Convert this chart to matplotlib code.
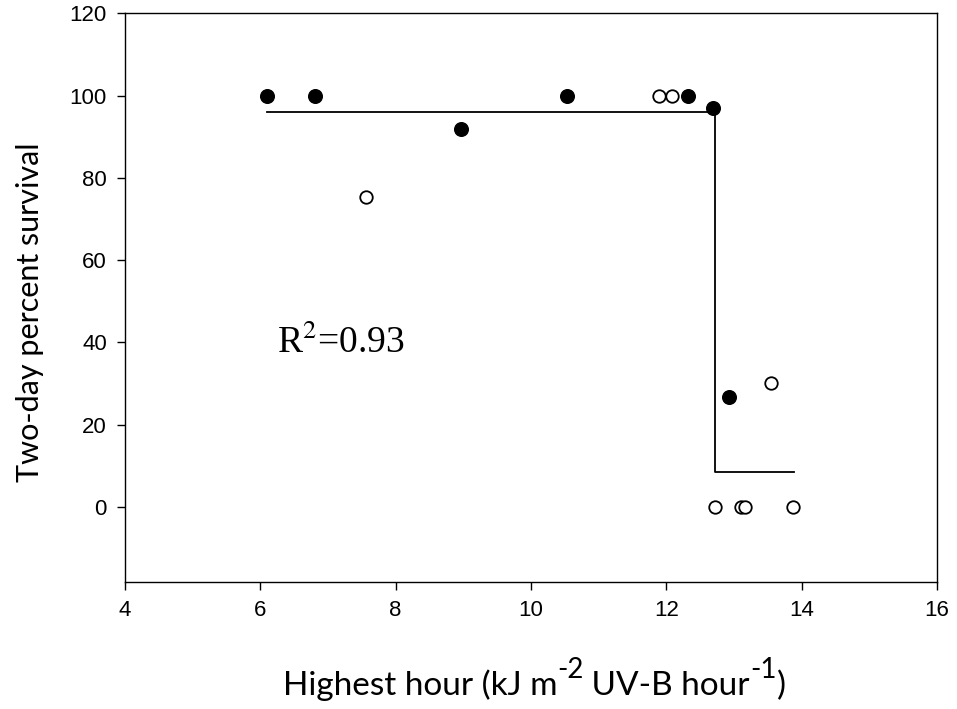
import matplotlib
matplotlib.use("Agg")
import matplotlib.pyplot as plt

filled_x = [6.10, 6.81, 8.96, 10.54, 12.32, 12.69, 12.92]
filled_y = [100, 100, 91.9, 100, 100, 97, 26.8]
open_x = [7.56, 11.90, 12.08, 13.55, 12.72, 13.11, 13.17, 13.88]
open_y = [75.3, 100, 100, 30.2, 0, 0, 0, 0]
step_x = [6.10, 12.72, 12.72, 13.89]
step_y = [96.0, 96.0, 8.5, 8.5]
xticks = [4, 6, 8, 10, 12, 14, 16]
yticks = [0, 20, 40, 60, 80, 100, 120]

W, H = 957, 709
fig = plt.figure(figsize=(W / 100, H / 100), dpi=100)
ax = fig.add_axes([0.1306, 0.1795, 0.979 - 0.1306, 0.981 - 0.1795])

ax.plot(step_x, step_y, color="black", lw=1.3, zorder=2)
ax.plot(filled_x, filled_y, "o", ms=9.8, mfc="black", mec="black", mew=1.0, zorder=3)
ax.plot(open_x, open_y, "o", ms=9.0, mfc="white", mec="black", mew=1.3, zorder=3)

ax.set_xlim(4, 16)
ax.set_ylim(-18.2, 120)
ax.set_xticks(xticks)
ax.set_yticks(yticks)
ax.tick_params(direction="out", length=6, width=1, labelsize=16, pad=7)
for lab in ax.get_xticklabels() + ax.get_yticklabels():
    lab.set_family("Liberation Sans")
for sp in ax.spines.values():
    sp.set_linewidth(1.0)

ax.text(6.25, 40, "R$^2$=0.93", fontsize=27, family="Liberation Serif",
        va="center", ha="left", math_fontfamily="stix")

fig.text(0.031, 0.56, "Two-day percent survival", ha="center", va="center",
         rotation=90, fontsize=22, family="Lato")

# x label composed of pieces with large superscripts
pieces = [("Highest hour (kJ m", False), ("-2", True), (" UV-B hour", False),
          ("-1", True), (")", False)]
main_fs, sup_fs, raise_px = 24, 20, 17
baseline_px = 695
fig.canvas.draw()
r = fig.canvas.get_renderer()
texts = []
x_px = 0
for s, sup in pieces:
    t = fig.text(x_px / W, 1 - (baseline_px - (raise_px if sup else 0)) / H, s,
                 fontsize=sup_fs if sup else main_fs, family="Lato",
                 va="baseline", ha="left")
    bb = t.get_window_extent(r)
    texts.append(t)
    x_px += bb.width
total = x_px
start = 534 - total / 2
x_px = start
for t in texts:
    bb = t.get_window_extent(r)
    t.set_x(x_px / W)
    x_px += bb.width

fig.savefig("out.png", dpi=100)
